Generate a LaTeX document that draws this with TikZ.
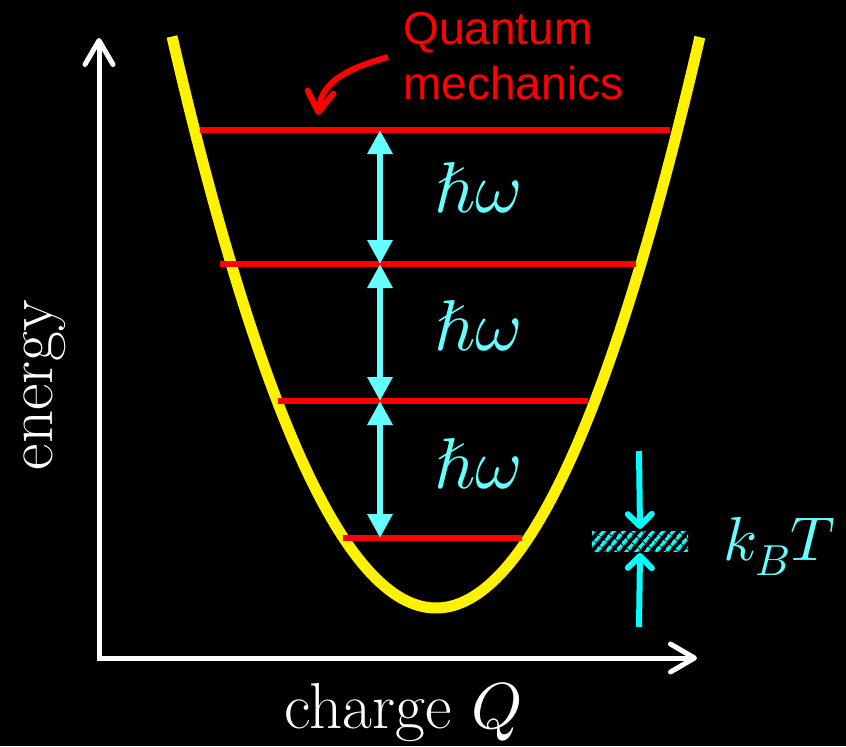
\documentclass[tikz,border=0pt]{standalone}
\usepackage{amsmath}
\usepackage{xcolor}
\usepackage{fontspec}
\usepackage{unicode-math}
\usepackage{tikz}
\usetikzlibrary{arrows.meta, patterns.meta}
\setmathfont{Latin Modern Math}
\newfontfamily\qmfont{Liberation Sans}
\definecolor{lightcyan}{RGB}{102,255,255}
\definecolor{brightcyan}{RGB}{0,255,255}

\begin{document}
\begin{tikzpicture}[x=0.5pt, y=-0.5pt,
        axis/.style={white, line width=2.5pt, {Straight Barb[length=12pt,width=14pt,round]}-{Straight Barb[length=12pt,width=14pt,round]}},
        level/.style={red, line width=3pt},
        gap/.style={lightcyan, line width=3pt, {Triangle[length=12pt,width=12pt]}-{Triangle[length=12pt,width=12pt]}},
        gaplabel/.style={lightcyan, font=\fontsize{36}{40}\selectfont, anchor=base},
        axislabel/.style={white, font=\fontsize{32.5}{36}\selectfont, anchor=base},
        thermal/.style={brightcyan, line width=3pt, -{Straight Barb[length=6pt,width=12pt,round]}},
        hatchbar/.style={minimum width=48pt, minimum height=10pt, inner sep=0pt,
            pattern={Lines[angle=50,distance=4pt,line width=2pt]}, pattern color=brightcyan}]
        \useasboundingbox (0, 0) rectangle (846, 746);
        \fill[black] (0, 0) rectangle (846, 746);

        % axes
        \coordinate (origin) at (99, 658);
        \coordinate (etop) at (99, 38);
        \coordinate (qend) at (697, 658);
        \draw[axis] (etop) -- (origin) -- (qend);
        \node[axislabel, rotate=90] (energy) at (53, 385) {energy};
        \node[axislabel] (charge) at (404, 728) {charge $Q$};

        % potential well
        \draw[yellow, line width=5.5pt, domain=-2.64:2.64, samples=120]
            plot ({436 + 100*\x}, {608 - 82*\x*\x});

        % levels
        \foreach \name/\y/\xa/\xb in {n0/538/343/522, n1/401/278/588, n2/264/220/636, n3/130/200/670} {
            \draw[level] (\xa, \y) coordinate (\name l) -- (\xb, \y) coordinate (\name r);
            \coordinate (\name a) at (380, \y);
        }
        \draw[gap] (n3a) -- (n2a);
        \draw[gap] (n2a) -- (n1a);
        \draw[gap] (n1a) -- (n0a);
        \foreach \name/\y in {hw3/212, hw2/350, hw1/488} {
            \node[gaplabel] (\name) at (478, \y) {$\hbar\omega$};
        }

        % quantum label
        \node[red, font=\fontsize{23}{27.5}\selectfont\qmfont, align=left, anchor=north west, inner sep=0pt]
            (qm) at (403, 12) {Quantum\\mechanics};
        \coordinate (qmstart) at (388, 57);
        \coordinate (qmtip) at (318, 115);
        \draw[red, line width=3pt, -{Straight Barb[length=10pt,width=13pt,round]}]
            (qmstart) .. controls (350, 68) and (322, 80) .. (qmtip);

        % thermal width
        \node[hatchbar] (bar) at (640, 541) {};
        \coordinate (ktop) at (639, 451);
        \coordinate (kbot) at (639, 627);
        \draw[thermal] (ktop) -- (bar.north);
        \draw[thermal] (kbot) -- (bar.south);
        \node[lightcyan, font=\fontsize{31}{36}\selectfont, anchor=base west] (kbt) at (716, 560) {$k_BT$};
    \end{tikzpicture}
\end{document}
